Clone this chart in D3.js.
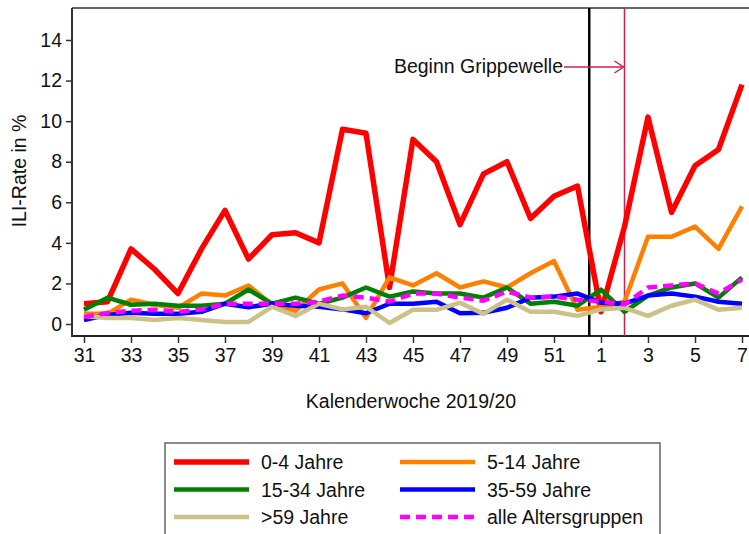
<!DOCTYPE html>
<html>
<head>
<meta charset="utf-8">
<script src="https://cdn.jsdelivr.net/npm/d3@7"></script>
<style>
  body { margin: 0; background: #fff; }
  svg { font-family: "Liberation Sans", Arial, sans-serif; }
</style>
</head>
<body>
<div id="chart"></div>
<script>
// weeks 31..52 of 2019, then 1..7 of 2020
const weeks = [31,32,33,34,35,36,37,38,39,40,41,42,43,44,45,46,47,48,49,50,51,52,1,2,3,4,5,6,7];
const tickWeeks = [31,33,35,37,39,41,43,45,47,49,51,1,3,5,7];
const yTicks = [0,2,4,6,8,10,12,14];

const age0_4   = [1.0,1.1,3.7,2.7,1.5,3.7,5.6,3.2,4.4,4.5,4.0,9.6,9.4,1.8,9.1,8.0,4.9,7.4,8.0,5.2,6.3,6.8,0.6,4.8,10.2,5.5,7.8,8.6,11.8];
const age5_14  = [0.5,0.5,1.2,0.95,0.8,1.5,1.4,1.9,0.95,0.65,1.7,2.0,0.3,2.3,1.9,2.5,1.8,2.1,1.8,2.5,3.1,0.7,0.85,1.1,4.3,4.3,4.8,3.7,5.8];
const age15_34 = [0.7,1.3,0.95,1.0,0.9,0.9,1.0,1.7,1.0,1.3,1.0,1.3,1.8,1.35,1.6,1.5,1.5,1.3,1.8,1.0,1.1,0.9,1.7,0.6,1.4,1.8,2.0,1.3,2.3];
const age35_59 = [0.2,0.45,0.55,0.5,0.5,0.6,1.0,0.83,1.0,0.9,0.85,0.72,0.53,1.0,1.0,1.1,0.53,0.55,0.8,1.3,1.35,1.5,1.05,1.0,1.4,1.5,1.35,1.1,1.0];
const age60    = [0.4,0.3,0.3,0.2,0.3,0.2,0.1,0.1,0.85,0.4,1.0,0.72,0.85,0.05,0.7,0.7,1.05,0.5,1.2,0.6,0.6,0.4,0.72,0.8,0.4,0.9,1.2,0.7,0.8];
const allAges  = [0.35,0.55,0.65,0.7,0.6,0.72,1.0,1.0,1.0,1.0,1.1,1.4,1.3,1.1,1.5,1.5,1.3,1.15,1.6,1.3,1.35,1.2,1.1,0.97,1.8,1.9,2.0,1.5,2.2];

const series = [
  {name: "0-4 Jahre", values: age0_4, color: "#ff0000", width: 5.5},
  {name: "5-14 Jahre", values: age5_14, color: "#ff8000", width: 4.5},
  {name: "15-34 Jahre", values: age15_34, color: "#008000", width: 4.5},
  {name: "35-59 Jahre", values: age35_59, color: "#0000ff", width: 4.5},
  {name: ">59 Jahre", values: age60, color: "#cbc189", width: 4.5},
  {name: "alle Altersgruppen", values: allAges, color: "#ff00ff", width: 4.5, dash: "10,6"}
];

const fontSize = 19.5;
const width = 749, height = 534;
const plot = {left: 72, top: 8, right: 749, bottom: 336};

const svg = d3.select("#chart").append("svg")
  .attr("width", width)
  .attr("height", height);

const x = d3.scaleLinear().domain([0, weeks.length - 1]).range([84, 742]);
const y = d3.scaleLinear().domain([0, 14]).range([324, 40]);

// frame: top line
svg.append("line")
  .attr("x1", plot.left).attr("x2", plot.right)
  .attr("y1", plot.top).attr("y2", plot.top)
  .attr("stroke", "#666").attr("stroke-width", 2);

// x axis
const xAxis = d3.axisBottom(x)
  .tickValues(tickWeeks.map(w => weeks.indexOf(w)))
  .tickFormat(i => weeks[i])
  .tickSize(7).tickPadding(5).tickSizeOuter(0);
const gx = svg.append("g")
  .attr("transform", `translate(0,${plot.bottom})`)
  .call(xAxis);
gx.select(".domain").remove();
gx.append("line")
  .attr("x1", plot.left).attr("x2", plot.right)
  .attr("stroke", "#222").attr("stroke-width", 2);
gx.selectAll(".tick line").attr("stroke", "#333").attr("stroke-width", 1.5);
gx.selectAll(".tick text").attr("font-size", fontSize).attr("fill", "#111");

// y axis
const yAxis = d3.axisLeft(y).tickValues(yTicks).tickSize(6).tickPadding(4).tickSizeOuter(0);
const gy = svg.append("g")
  .attr("transform", `translate(${plot.left},0)`)
  .call(yAxis);
gy.select(".domain").remove();
gy.append("line")
  .attr("y1", plot.top).attr("y2", plot.bottom + 1)
  .attr("stroke", "#333").attr("stroke-width", 2);
gy.selectAll(".tick line").attr("stroke", "#333").attr("stroke-width", 1.5);
gy.selectAll(".tick text").attr("font-size", fontSize).attr("fill", "#111");

// axis titles
svg.append("text")
  .attr("x", 411).attr("y", 408)
  .attr("text-anchor", "middle")
  .attr("font-size", fontSize).attr("fill", "#111")
  .text("Kalenderwoche 2019/20");
svg.append("text")
  .attr("transform", "translate(26,171) rotate(-90)")
  .attr("text-anchor", "middle")
  .attr("font-size", fontSize).attr("fill", "#111")
  .text("ILI-Rate in %");

// year change and flu wave start
svg.append("line")
  .attr("x1", x(21.5)).attr("x2", x(21.5))
  .attr("y1", plot.top).attr("y2", plot.bottom)
  .attr("stroke", "#000").attr("stroke-width", 2.5);
const waveX = x(weeks.indexOf(2));
svg.append("line")
  .attr("x1", waveX).attr("x2", waveX)
  .attr("y1", plot.top).attr("y2", plot.bottom)
  .attr("stroke", "#d2204e").attr("stroke-width", 1.5);

// lines
const line = d3.line().x((d, i) => x(i)).y(d => y(d));
svg.append("g").selectAll("path")
  .data(series)
  .join("path")
  .attr("d", d => line(d.values))
  .attr("fill", "none")
  .attr("stroke", d => d.color)
  .attr("stroke-width", d => d.width)
  .attr("stroke-dasharray", d => d.dash || null)
  .attr("stroke-linejoin", "round");

// annotation
svg.append("text")
  .attr("x", 563).attr("y", 73)
  .attr("text-anchor", "end")
  .attr("font-size", fontSize).attr("fill", "#111")
  .text("Beginn Grippewelle");
svg.append("line")
  .attr("x1", 564).attr("x2", waveX - 1)
  .attr("y1", 67).attr("y2", 67)
  .attr("stroke", "#d2204e").attr("stroke-width", 1.5);
svg.append("path")
  .attr("d", `M${waveX - 10},61 L${waveX - 1},67 L${waveX - 10},73`)
  .attr("fill", "none")
  .attr("stroke", "#d2204e").attr("stroke-width", 1.5);

// legend
svg.append("rect")
  .attr("x", 165).attr("y", 443)
  .attr("width", 495).attr("height", 110)
  .attr("fill", "#fff").attr("stroke", "#666").attr("stroke-width", 1.5);
const legend = svg.append("g").selectAll("g")
  .data(series)
  .join("g")
  .attr("transform", (d, i) => `translate(${i % 2 ? 400 : 174},${462 + Math.floor(i / 2) * 27.5})`);
legend.append("line")
  .attr("x1", 0).attr("x2", 75)
  .attr("stroke", d => d.color)
  .attr("stroke-width", d => d.width)
  .attr("stroke-dasharray", d => d.dash || null);
legend.append("text")
  .attr("x", 87).attr("y", 7)
  .attr("font-size", fontSize).attr("fill", "#111")
  .text(d => d.name);
</script>
</body>
</html>
